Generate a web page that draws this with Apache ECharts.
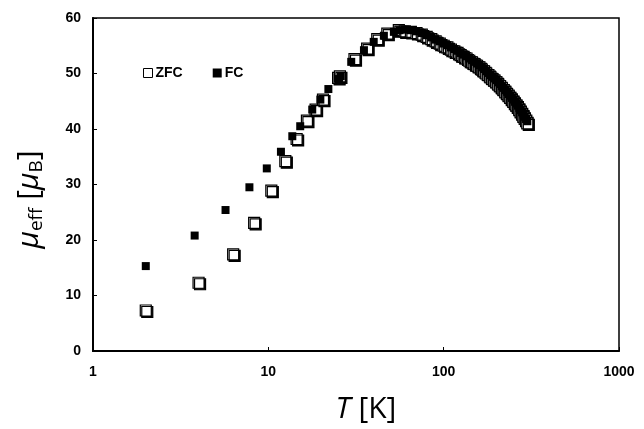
<!DOCTYPE html>
<html>
<head>
<meta charset="utf-8">
<script src="https://cdn.jsdelivr.net/npm/echarts@6/dist/echarts.min.js"></script>
<style>
html,body{margin:0;padding:0;background:#fff;}
#chart{width:644px;height:429px;}
</style>
</head>
<body>
<div id="chart"></div>
<script>
// Temperature (K) and effective moment (μB)
const zfcT = [2.0, 4.0, 6.3, 8.3, 10.4, 12.5, 14.5, 16.6, 18.6, 20.5, 25.0, 25.6, 31.0, 36.6, 41.8, 47.7, 55.5,
  60, 65, 70, 75, 80, 85, 90, 95, 100, 105, 110, 115, 120, 125, 130, 135, 140, 145, 150, 155, 160, 165, 170, 175,
  180, 185, 190, 195, 200, 205, 210, 215, 220, 225, 230, 235, 240, 245, 250, 255, 260, 265, 270, 275, 280, 285,
  290, 295, 300];
const zfcMu = [7.3, 12.3, 17.4, 23.1, 28.9, 34.2, 38.2, 41.5, 43.5, 45.3, 49.2, 49.5, 52.6, 54.5, 56.2, 57.2, 57.8,
  57.6, 57.5, 57.3, 57.0, 56.6, 56.2, 55.8, 55.4, 55.0, 54.7, 54.3, 54.0, 53.7, 53.3, 53.0, 52.7, 52.3, 52.0, 51.7,
  51.4, 51.1, 50.7, 50.4, 50.0, 49.7, 49.3, 49.0, 48.7, 48.4, 48.0, 47.7, 47.3, 47.0, 46.6, 46.3, 45.9, 45.6, 45.2,
  44.9, 44.5, 44.2, 43.8, 43.4, 43.0, 42.6, 42.2, 41.8, 41.4, 41.0];

const fcT = [2.0, 3.8, 5.7, 7.8, 9.8, 11.8, 13.7, 15.2, 17.8, 19.8, 22.0, 25.3, 25.9, 29.7, 35.1, 39.9, 45.6, 52.0, 56.0,
  60, 65, 70, 75, 80, 85, 90, 95, 100, 105, 110, 115, 120, 125, 130, 135, 140, 145, 150, 155, 160, 165, 170, 175,
  180, 185, 190, 195, 200, 205, 210, 215, 220, 225, 230, 235, 240, 245, 250, 255, 260, 265, 270, 275, 280, 285,
  290, 295, 300];
const fcMu = [15.3, 20.8, 25.4, 29.5, 32.9, 35.9, 38.7, 40.5, 43.5, 45.3, 47.2, 49.0, 49.5, 52.1, 54.2, 55.7, 56.8, 57.5, 57.8,
  57.9, 57.8, 57.6, 57.3, 56.9, 56.5, 56.1, 55.8, 55.4, 55.1, 54.7, 54.4, 54.1, 53.7, 53.4, 53.1, 52.7, 52.4, 52.1,
  51.8, 51.5, 51.1, 50.8, 50.4, 50.1, 49.7, 49.4, 49.1, 48.8, 48.4, 48.1, 47.7, 47.4, 47.0, 46.7, 46.3, 46.0, 45.6,
  45.3, 44.9, 44.6, 44.2, 43.8, 43.4, 43.0, 42.6, 42.2, 41.8, 41.4];

const seriesNames = ['ZFC', 'FC'];
const xTicks = [1, 10, 100, 1000];
const yTicks = [0, 10, 20, 30, 40, 50, 60];

const pairs = (xs, ys) => xs.map((x, i) => [x, ys[i]]);

const tickFont = {color: '#000', fontFamily: 'Liberation Sans', fontWeight: 'bold', fontSize: 14};
const nameFont = 'Open Sans';

const chart = echarts.init(document.getElementById('chart'), null, {renderer: 'canvas'});
chart.setOption({
  animation: false,
  backgroundColor: '#fff',
  grid: {left: 93, right: 25, top: 18, bottom: 77, show: true, borderColor: '#000', borderWidth: 1.5, backgroundColor: 'transparent'},
  legend: {
    left: 138, top: 61, orient: 'horizontal', itemWidth: 9, itemHeight: 9, itemGap: 30,
    textStyle: {color: '#000', fontFamily: 'Liberation Sans', fontWeight: 'bold', fontSize: 14, padding: [0, 0, 0, -2]},
    data: [
      {name: seriesNames[0], icon: 'rect', itemStyle: {color: '#fff', borderColor: '#000', borderWidth: 1, shadowBlur: 0, shadowOffsetX: 0, shadowOffsetY: 0}},
      {name: seriesNames[1], icon: 'rect', itemStyle: {color: '#000', borderWidth: 0}}
    ]
  },
  xAxis: {
    type: 'log', logBase: 10, min: xTicks[0], max: xTicks[xTicks.length - 1],
    name: '{it|T} [K]', nameLocation: 'middle', nameGap: 43,
    nameTextStyle: {color: '#000', fontFamily: nameFont, fontSize: 30, padding: [0, 0, 0, 20], rich: {it: {fontStyle: 'italic', fontFamily: nameFont, fontSize: 30, color: '#000'}}},
    axisLine: {show: true, onZero: false, lineStyle: {color: '#000', width: 2}},
    axisTick: {show: true, inside: true, length: 4, lineStyle: {color: '#000', width: 1}},
    minorTick: {show: false},
    splitLine: {show: false},
    axisLabel: Object.assign({margin: 14, formatter: v => String(Math.round(v))}, tickFont)
  },
  yAxis: {
    type: 'value', min: yTicks[0], max: yTicks[yTicks.length - 1], interval: 10,
    name: '{mu|μ}{sub|eff} [{mu|μ}{sub|B}]', nameLocation: 'middle', nameGap: 47,
    nameTextStyle: {
      color: '#000', fontFamily: nameFont, fontSize: 30, padding: [0, 30, 0, 0],
      rich: {
        mu: {fontStyle: 'italic', fontFamily: nameFont, fontSize: 30, color: '#000'},
        sub: {fontFamily: nameFont, fontSize: 19, color: '#000', padding: [14, 0, 0, 0]}
      }
    },
    axisLine: {show: true, onZero: false, lineStyle: {color: '#000', width: 2}},
    axisTick: {show: true, inside: true, length: 4, lineStyle: {color: '#000', width: 1}},
    splitLine: {show: false},
    axisLabel: Object.assign({margin: 12}, tickFont)
  },
  series: [
    {
      name: seriesNames[0], type: 'scatter', symbol: 'rect', symbolSize: 11,
      itemStyle: {color: '#fff', borderColor: '#000', borderWidth: 1.2, shadowColor: '#000', shadowBlur: 0, shadowOffsetX: 1.5, shadowOffsetY: 1.5, opacity: 1},
      emphasis: {disabled: true},
      data: pairs(zfcT, zfcMu), z: 2
    },
    {
      name: seriesNames[1], type: 'scatter', symbol: 'rect', symbolSize: 8,
      itemStyle: {color: '#000', opacity: 1},
      emphasis: {disabled: true},
      data: pairs(fcT, fcMu), z: 3
    }
  ]
});
</script>
</body>
</html>
